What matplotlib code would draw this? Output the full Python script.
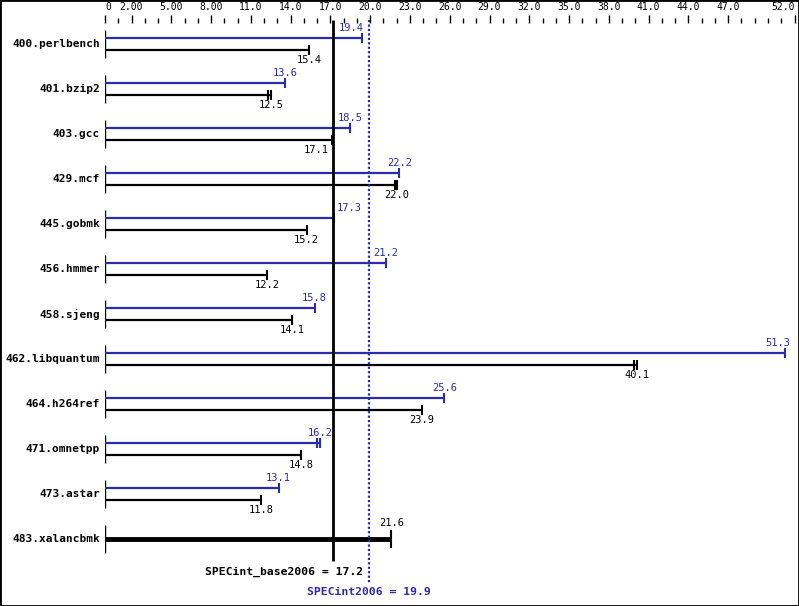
import matplotlib.pyplot as plt
import matplotlib.patches as mpatches
import numpy as np

# 数据
benchmarks = ["400.perlbench", "401.bzip2", "403.gcc", "429.mcf", "445.gobmk", "456.hmmer",
              "458.sjeng", "462.libquantum", "464.h264ref", "471.omnetpp", "473.astar", "483.xalancbmk"]
peak = [19.4, 13.6, 18.5, 22.2, 17.3, 21.2, 15.8, 51.3, 25.6, 16.2, 13.1, 21.6]
base = [15.4, 12.5, 17.1, 22.0, 15.2, 12.2, 14.1, 40.1, 23.9, 14.8, 11.8, 21.6]
# 第二次运行的值（图中的双竖线）
base_run2 = {1: 12.3, 3: 21.9, 7: 39.9}
peak_run2 = {9: 16.0}
tick_major = [0, 2, 5, 8, 11, 14, 17, 20, 23, 26, 29, 32, 35, 38, 41, 44, 47, 52]
tick_labels = ["0", "2.00", "5.00", "8.00", "11.0", "14.0", "17.0", "20.0", "23.0", "26.0",
               "29.0", "32.0", "35.0", "38.0", "41.0", "44.0", "47.0", "52.0"]
spec_base = 17.2
spec_peak = 19.9

blue = "#2b2bab"
mono = "DejaVu Sans Mono"

fig = plt.figure(figsize=(7.99, 6.06), dpi=100)
ax = fig.add_axes([105 / 799, 0, 689.5 / 799, 583 / 606])
ax.set_xlim(0, 52)
ax.set_ylim(12.489, -0.467)

off = 6 / 45  # 蓝线和黑线的上下偏移
cap = 5 / 45


def label_pos(v):
    # 避开两条总分线
    if v > 50:
        return "right", 4
    if 0 <= v - spec_base < 1:
        return "left", 2
    if 0 < spec_base - v < 1:
        return "right", -2
    if 0 < spec_peak - v < 1:
        return "right", 1
    return "center", 0


for i, name in enumerate(benchmarks):
    ax.vlines(0, i - 0.31, i + 0.31, color="black", lw=1)
    ax.text(-0.4, i, name, ha="right", va="center", fontsize=8, fontweight="bold", family=mono)
    if peak[i] == base[i]:
        ax.hlines(i, 0, base[i], color="black", lw=3.5)
        ax.vlines(base[i], i - 0.2, i + 0.2, color="black", lw=1.5)
        ax.annotate(f"{base[i]:.1f}", (base[i], i), xytext=(0, 8), textcoords="offset points",
                    ha="center", va="bottom", fontsize=7.5, family=mono, color="black")
        continue
    yp = i - off
    yb = i + off
    ax.hlines(yp, 0, peak[i], color=blue, lw=1.6)
    ax.vlines(peak[i], yp - cap, yp + cap, color=blue, lw=1.5)
    if i in peak_run2:
        ax.vlines(peak_run2[i], yp - cap, yp + cap, color=blue, lw=1.5)
    ax.hlines(yb, 0, base[i], color="black", lw=1.6)
    ax.vlines(base[i], yb - cap, yb + cap, color="black", lw=1.5)
    if i in base_run2:
        ax.vlines(base_run2[i], yb - cap, yb + cap, color="black", lw=1.5)

    ha_p, dx = label_pos(peak[i])
    ax.annotate(f"{peak[i]:.1f}", (peak[i], yp), xytext=(dx, 3.5), textcoords="offset points",
                ha=ha_p, va="bottom", fontsize=7.5, family=mono, color=blue)
    ha_b, dx = label_pos(base[i])
    ax.annotate(f"{base[i]:.1f}", (base[i], yb), xytext=(dx, -3.5), textcoords="offset points",
                ha=ha_b, va="top", fontsize=7.5, family=mono, color="black")

# 总分线
y_top = -0.467 - 3 / 45
ax.vlines(spec_base, y_top, 11.49, color="black", lw=2, clip_on=False)
ax.vlines(spec_peak, y_top, 11.98, color=blue, lw=1.6, linestyles=(0, (1, 1)), clip_on=False)
ax.text(spec_peak - 0.45, 11.73, f"SPECint_base2006 = {spec_base}", ha="right", va="center",
        fontsize=8.2, fontweight="bold", family=mono, color="black")
ax.text(spec_peak, 12.18, f"SPECint2006 = {spec_peak}", ha="center", va="center",
        fontsize=8.2, fontweight="bold", family=mono, color=blue)

# 顶部刻度
ax.xaxis.tick_top()
ax.set_xticks(tick_major)
ax.set_xticklabels(tick_labels, family=mono, fontsize=7)
ax.set_xticks([v for v in range(53) if v not in tick_major], minor=True)
ax.tick_params(axis="x", which="major", direction="out", length=5.8, width=1, pad=2)
ax.tick_params(axis="x", which="minor", direction="out", length=3.6, width=1)
labs = ax.get_xticklabels()
labs[0].set_ha("left")
labs[-1].set_ha("right")
ax.set_yticks([])
for s in ax.spines.values():
    s.set_visible(False)

# 外框
fig.patches.append(mpatches.Rectangle((0, 0), 1, 1, transform=fig.transFigure, fill=False,
                                      edgecolor="black", lw=2, clip_on=False))

plt.savefig("out.png", dpi=100)
